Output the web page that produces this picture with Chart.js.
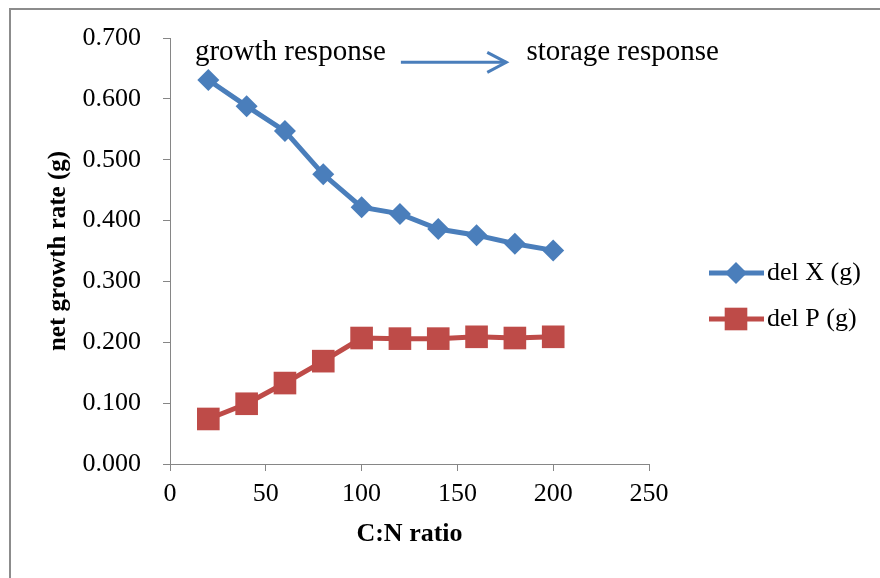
<!DOCTYPE html>
<html>
<head>
<meta charset="utf-8">
<script src="https://cdn.jsdelivr.net/npm/chart.js@4.4.1/dist/chart.umd.min.js"></script>
<style>
  html, body { margin: 0; padding: 0; background: #fff; }
  #wrap { position: relative; width: 880px; height: 578px; overflow: hidden; }
  #frame { position: absolute; left: 9px; top: 8px; width: 900px; height: 600px; border: 2px solid #8c8c8c; box-sizing: border-box; }
  #chart { position: absolute; left: 0; top: 0; }
</style>
</head>
<body>
<div id="wrap">
  <div id="frame"></div>
  <canvas id="chart" width="880" height="578"></canvas>
</div>
<script>
// C:N ratio values (x)
const cnRatio = [20, 40, 60, 80, 100, 120, 140, 160, 180, 200];
// series
const delX = [0.631, 0.588, 0.547, 0.476, 0.422, 0.411, 0.386, 0.376, 0.362, 0.351];
const delP = [0.074, 0.099, 0.133, 0.169, 0.207, 0.206, 0.206, 0.209, 0.207, 0.209];
const seriesNames = ['del X (g)', 'del P (g)'];

const yTitle = 'net growth rate (g)';
const xTitle = 'C:N ratio';
const noteLeft = 'growth response';
const noteRight = 'storage response';

const BLUE = '#4a7ebb';
const RED = '#be4b48';
const AXIS = '#868686';
const SERIF = '"Liberation Serif", "Times New Roman", serif';

const toPoints = (ys) => cnRatio.map((x, i) => ({ x: x, y: ys[i] }));

// text + arrow above the lines, placed in data units
const notesPlugin = {
    id: 'notes',
    afterDatasetsDraw(chart) {
        const { ctx, scales: { x, y } } = chart;
        ctx.save();
        ctx.fillStyle = '#000';
        ctx.font = '29px ' + SERIF;
        ctx.textBaseline = 'alphabetic';
        ctx.fillText(noteLeft, x.getPixelForValue(13), y.getPixelForValue(0.664));
        ctx.fillText(noteRight, x.getPixelForValue(186), y.getPixelForValue(0.664));

        // arrow
        const x0 = x.getPixelForValue(120.5), x1 = x.getPixelForValue(175.5);
        const ya = y.getPixelForValue(0.660);
        ctx.strokeStyle = BLUE;
        ctx.lineWidth = 3;
        ctx.beginPath();
        ctx.moveTo(x0, ya);
        ctx.lineTo(x1, ya);
        ctx.stroke();
        ctx.beginPath();
        ctx.moveTo(x1 - 19, ya - 10);
        ctx.lineTo(x1, ya);
        ctx.lineTo(x1 - 19, ya + 10);
        ctx.stroke();
        ctx.restore();
    }
};

// legend on the right, Excel style (line through marker)
const sideLegend = {
    id: 'sideLegend',
    afterDraw(chart) {
        const { ctx, chartArea } = chart;
        const left = chartArea.right + 60;
        ctx.save();
        chart.data.datasets.forEach((ds, i) => {
            const yy = 273 + i * 46;
            ctx.strokeStyle = ds.borderColor;
            ctx.lineWidth = ds.borderWidth;
            ctx.beginPath();
            ctx.moveTo(left, yy);
            ctx.lineTo(left + 55, yy);
            ctx.stroke();
            ctx.fillStyle = ds.pointBackgroundColor;
            Chart.helpers.drawPoint(ctx, {
                pointStyle: ds.pointStyle,
                radius: ds.pointRadius,
                rotation: 0,
                borderWidth: 0
            }, left + 27, yy);
            ctx.fillStyle = '#000';
            ctx.font = '26px ' + SERIF;
            ctx.textBaseline = 'middle';
            ctx.fillText(ds.label, left + 58, yy);
        });
        ctx.restore();
    }
};

new Chart(document.getElementById('chart'), {
    type: 'line',
    data: {
        datasets: [{
            label: seriesNames[0],
            data: toPoints(delX),
            borderColor: BLUE,
            backgroundColor: BLUE,
            pointBackgroundColor: BLUE,
            pointBorderColor: BLUE,
            pointBorderWidth: 0,
            borderWidth: 5,
            pointStyle: 'rectRot',
            pointRadius: 11,
            tension: 0
        }, {
            label: seriesNames[1],
            data: toPoints(delP),
            borderColor: RED,
            backgroundColor: RED,
            pointBackgroundColor: RED,
            pointBorderColor: RED,
            pointBorderWidth: 0,
            borderWidth: 5,
            pointStyle: 'rect',
            pointRadius: 16,
            tension: 0
        }]
    },
    options: {
        responsive: false,
        animation: false,
        layout: { padding: { left: 0, top: 38, right: 231, bottom: 0 } },
        plugins: {
            legend: { display: false },
            tooltip: { enabled: false }
        },
        scales: {
            x: {
                type: 'linear',
                min: 0,
                max: 250,
                afterFit: (s) => { s.height = 114; },
                ticks: {
                    stepSize: 50,
                    color: '#000',
                    padding: 8,
                    font: { family: SERIF, size: 26 }
                },
                grid: { drawOnChartArea: false, drawTicks: true, tickLength: 7, color: AXIS },
                border: { color: AXIS, width: 1 },
                title: {
                    display: true,
                    text: xTitle,
                    color: '#000',
                    font: { family: SERIF, size: 26, weight: 'bold' },
                    padding: { top: 0, bottom: 28 }
                }
            },
            y: {
                min: 0,
                max: 0.7,
                afterFit: (s) => { s.width = 170; },
                ticks: {
                    stepSize: 0.1,
                    color: '#000',
                    padding: 22,
                    font: { family: SERIF, size: 26 },
                    callback: (v) => v.toFixed(3)
                },
                grid: { drawOnChartArea: false, drawTicks: true, tickLength: 7, color: AXIS },
                border: { color: AXIS, width: 1 },
                title: {
                    display: true,
                    text: yTitle,
                    color: '#000',
                    font: { family: SERIF, size: 25, weight: 'bold' },
                    padding: { top: 44, bottom: 0 }
                }
            }
        }
    },
    plugins: [notesPlugin, sideLegend]
});
</script>
</body>
</html>
